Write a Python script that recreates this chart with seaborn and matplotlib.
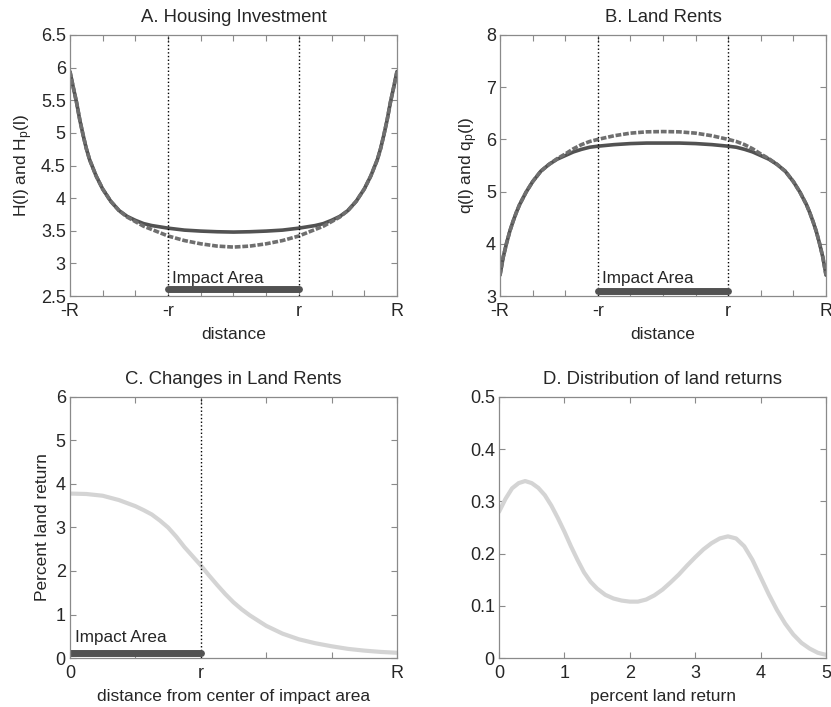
import numpy as np
import pandas as pd
import matplotlib
matplotlib.use("Agg")
import matplotlib.pyplot as plt
import seaborn as sns

# ---- Panel A: housing investment along the city (x in units, R = 5, r = 2)
dist_ab = [-5.0, -4.9, -4.8, -4.7, -4.6, -4.5, -4.4, -4.2, -4.0, -3.75, -3.5, -3.25,
           -3.0, -2.75, -2.5, -2.25, -2.0, -1.5, -1.0, -0.5, 0.0,
           0.5, 1.0, 1.5, 2.0, 2.25, 2.5, 2.75, 3.0, 3.25, 3.5, 3.75,
           4.0, 4.2, 4.4, 4.5, 4.6, 4.7, 4.8, 4.9, 5.0]
housing_base = [5.94, 5.70, 5.47, 5.20, 4.97, 4.76, 4.59, 4.34, 4.14, 3.95, 3.81, 3.72,
                3.66, 3.61, 3.58, 3.56, 3.54, 3.51, 3.495, 3.485, 3.48,
                3.485, 3.495, 3.51, 3.54, 3.56, 3.58, 3.61, 3.66, 3.72, 3.81, 3.95,
                4.14, 4.34, 4.59, 4.76, 4.97, 5.20, 5.47, 5.70, 5.94]
housing_policy = [5.94, 5.70, 5.47, 5.20, 4.97, 4.76, 4.59, 4.34, 4.14, 3.95, 3.81, 3.71,
                  3.64, 3.57, 3.52, 3.47, 3.42, 3.35, 3.30, 3.265, 3.25,
                  3.265, 3.30, 3.35, 3.42, 3.47, 3.52, 3.57, 3.64, 3.71, 3.81, 3.95,
                  4.14, 4.34, 4.59, 4.76, 4.97, 5.20, 5.47, 5.70, 5.94]

# ---- Panel B: land rents
rent_base = [3.40, 3.75, 4.01, 4.24, 4.43, 4.60, 4.75, 4.99, 5.19, 5.39, 5.52, 5.62,
             5.69, 5.76, 5.81, 5.85, 5.87, 5.90, 5.92, 5.93, 5.93,
             5.93, 5.92, 5.90, 5.87, 5.85, 5.81, 5.76, 5.69, 5.62, 5.52, 5.39,
             5.19, 4.99, 4.75, 4.60, 4.43, 4.24, 4.01, 3.75, 3.40]
rent_policy = [3.40, 3.75, 4.01, 4.24, 4.43, 4.60, 4.75, 4.99, 5.19, 5.39, 5.52, 5.63,
               5.72, 5.82, 5.90, 5.96, 6.00, 6.07, 6.12, 6.145, 6.15,
               6.145, 6.12, 6.07, 6.00, 5.96, 5.90, 5.82, 5.72, 5.63, 5.52, 5.39,
               5.19, 4.99, 4.75, 4.60, 4.43, 4.24, 4.01, 3.75, 3.40]

# ---- Panel C: percent change in land rent by distance from the centre
dist_c = [0.0, 0.25, 0.5, 0.75, 1.0, 1.125, 1.25, 1.375, 1.5, 1.625, 1.75, 1.875,
          2.0, 2.125, 2.25, 2.375, 2.5, 2.625, 2.75, 3.0, 3.25, 3.5, 3.75,
          4.0, 4.25, 4.5, 4.75, 5.0]
pct_return = [3.78, 3.77, 3.73, 3.63, 3.49, 3.40, 3.30, 3.16, 3.00, 2.79, 2.55, 2.34,
              2.13, 1.90, 1.68, 1.47, 1.28, 1.12, 0.98, 0.74, 0.56, 0.43, 0.34,
              0.27, 0.21, 0.17, 0.14, 0.12]

# ---- Panel D: density of land returns
ret_grid = [0.0, 0.1, 0.2, 0.3, 0.4, 0.5, 0.6, 0.7, 0.8, 0.9, 1.0, 1.1, 1.2, 1.3,
            1.4, 1.5, 1.625, 1.75, 1.875, 2.0, 2.125, 2.25, 2.375, 2.5, 2.625,
            2.75, 2.875, 3.0, 3.125, 3.25, 3.375, 3.5, 3.625, 3.75, 3.875, 4.0,
            4.125, 4.25, 4.375, 4.5, 4.625, 4.75, 4.875, 5.0]
ret_density = [0.280, 0.305, 0.325, 0.335, 0.339, 0.335, 0.326, 0.312, 0.292, 0.268,
               0.242, 0.214, 0.188, 0.164, 0.146, 0.133, 0.121, 0.114, 0.110, 0.108,
               0.108, 0.112, 0.120, 0.131, 0.145, 0.160, 0.177, 0.193, 0.208, 0.220,
               0.229, 0.233, 0.229, 0.214, 0.188, 0.155, 0.122, 0.092, 0.066, 0.045,
               0.029, 0.018, 0.010, 0.006]

# impact area and tick labels
r_in, R_out = 2.0, 5.0
ticks_ab = [-5, -2, 2, 5]
labels_ab = ["-R", "-r", "r", "R"]
ticks_c = [0, 2, 5]
labels_c = ["0", "r", "R"]

sns.set_style("white")
plt.rcParams["font.family"] = ["Liberation Sans", "DejaVu Sans"]
plt.rcParams["mathtext.default"] = "regular"
plt.rcParams["xtick.direction"] = "in"
plt.rcParams["ytick.direction"] = "in"

DARK = "#525252"
MID = "#6f6f6f"
LIGHT = "#d4d4d4"
FRAME = "#8a8a8a"
TXT = "#262626"

FS_TITLE = 13.3
FS_TICK = 13
FS_LABEL = 12.5
FS_NOTE = 12.3

fig = plt.figure(figsize=(8.31, 7.07), dpi=100)
axA = fig.add_axes([0.0842, 0.5813, 0.3935, 0.3692])
axB = fig.add_axes([0.6017, 0.5813, 0.3923, 0.3692])
axC = fig.add_axes([0.0842, 0.0693, 0.3935, 0.3692])
axD = fig.add_axes([0.6005, 0.0693, 0.3935, 0.3692])


def style_axes(ax, xlim, ylim, yticks, xminor):
    ax.set_xlim(*xlim)
    ax.set_ylim(*ylim)
    ax.set_yticks(yticks)
    ax.set_xticks(xminor, minor=True)
    for sp in ax.spines.values():
        sp.set_color(FRAME)
        sp.set_linewidth(0.9)
    ax.tick_params(which="both", direction="in", top=True, right=True,
                   bottom=True, left=True, length=4, width=0.8, color=FRAME,
                   labelsize=FS_TICK, labelcolor=TXT)
    ax.tick_params(axis="x", pad=5)
    ax.tick_params(axis="y", pad=3)


def finish(ax, title, xlabel, ylabel):
    ax.set_title(title, fontsize=FS_TITLE, color=TXT, pad=9)
    ax.set_xlabel(xlabel, fontsize=FS_LABEL, color=TXT, labelpad=5)
    ax.set_ylabel(ylabel, fontsize=FS_LABEL, color=TXT, labelpad=4)


frame_ab = pd.DataFrame({"dist": dist_ab, "H": housing_base, "Hp": housing_policy,
                         "q": rent_base, "qp": rent_policy})

# Panel A
sns.lineplot(data=frame_ab, x="dist", y="H", ax=axA, color=DARK, lw=2.6)
sns.lineplot(data=frame_ab, x="dist", y="Hp", ax=axA, color=MID, lw=2.6,
             linestyle=(0, (1.6, 0.5)))
for xv in (-r_in, r_in):
    axA.axvline(xv, color="black", lw=1.0, ls=":")
axA.plot([-r_in, r_in], [2.6, 2.6], color=DARK, lw=5, solid_capstyle="round")
axA.text(-1.88, 2.66, "Impact Area", fontsize=FS_NOTE, color=TXT, va="bottom")
style_axes(axA, (-5, 5), (2.5, 6.5), np.arange(2.5, 6.51, 0.5), np.arange(-5, 6, 1))
axA.set_xticks(ticks_ab, labels_ab)
axA.set_yticklabels(["2.5", "3", "3.5", "4", "4.5", "5", "5.5", "6", "6.5"])
finish(axA, "A. Housing Investment", "distance", "H(l) and H$_p$(l)")

# Panel B
sns.lineplot(data=frame_ab, x="dist", y="q", ax=axB, color=DARK, lw=2.6)
sns.lineplot(data=frame_ab, x="dist", y="qp", ax=axB, color=MID, lw=2.6,
             linestyle=(0, (1.6, 0.5)))
for xv in (-r_in, r_in):
    axB.axvline(xv, color="black", lw=1.0, ls=":")
axB.plot([-r_in, r_in], [3.1, 3.1], color=DARK, lw=5, solid_capstyle="round")
axB.text(-1.88, 3.2, "Impact Area", fontsize=FS_NOTE, color=TXT, va="bottom")
style_axes(axB, (-5, 5), (3, 8), np.arange(3, 9, 1), np.arange(-5, 6, 1))
axB.set_xticks(ticks_ab, labels_ab)
finish(axB, "B. Land Rents", "distance", "q(l) and q$_p$(l)")

# Panel C
frame_c = pd.DataFrame({"dist": dist_c, "ret": pct_return})
sns.lineplot(data=frame_c, x="dist", y="ret", ax=axC, color=LIGHT, lw=3.0)
axC.axvline(r_in, color="black", lw=1.0, ls=":")
axC.plot([0, r_in], [0.11, 0.11], color=DARK, lw=5, solid_capstyle="round")
axC.text(0.08, 0.3, "Impact Area", fontsize=FS_NOTE, color=TXT, va="bottom")
style_axes(axC, (0, 5), (0, 6), np.arange(0, 7, 1), np.arange(0, 6, 1))
axC.set_xticks(ticks_c, labels_c)
finish(axC, "C. Changes in Land Rents", "distance from center of impact area",
       "Percent land return")

# Panel D
frame_d = pd.DataFrame({"ret": ret_grid, "density": ret_density})
sns.lineplot(data=frame_d, x="ret", y="density", ax=axD, color=LIGHT, lw=3.0)
style_axes(axD, (0, 5), (0, 0.5), np.arange(0, 0.51, 0.1), np.arange(0, 6, 1))
axD.set_xticks(np.arange(0, 6, 1), [str(i) for i in range(6)])
axD.set_yticklabels(["0", "0.1", "0.2", "0.3", "0.4", "0.5"])
finish(axD, "D. Distribution of land returns", "percent land return", "")

fig.savefig("out.png", dpi=100)
